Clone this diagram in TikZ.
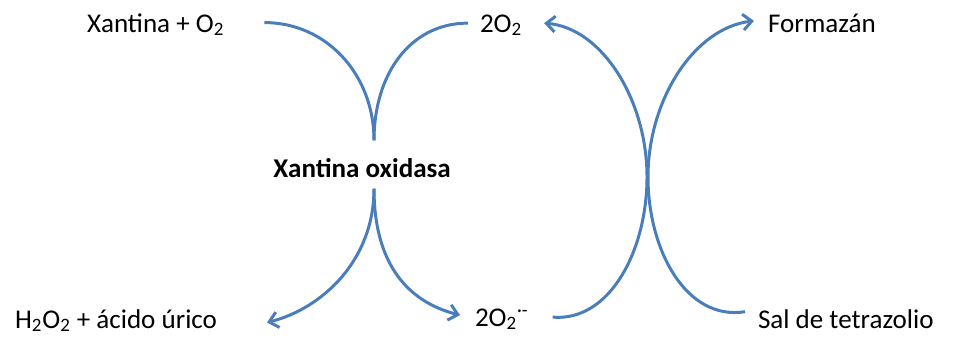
\documentclass[tikz,border=0pt]{standalone}
\usepackage{fontspec}
\setmainfont{Carlito}
\usetikzlibrary{arrows.meta}
\definecolor{linkblue}{HTML}{4A7EBB}

\begin{document}
\begin{tikzpicture}[
    x=0.02cm, y=-0.02cm,
    font=\fontsize{15.4}{18}\selectfont,
    species/.style={anchor=base west, inner sep=0pt, outer sep=0pt},
    enzyme/.style={inner sep=0pt, outer sep=0pt, font=\fontsize{15.4}{18}\selectfont\bfseries},
    link/.style={draw=linkblue, line width=1.7pt},
    arrow/.style={link, -{Straight Barb[length=5pt, width=9pt]}}
  ]
  \useasboundingbox (0,0) rectangle (966,343);

  % top row
  \node[species] (xan) at (87,32) {Xantina + O\textsubscript{2}};
  \node[species] (dio) at (480,32) {2O\textsubscript{2}};
  \node[species] (form) at (768,32) {Formazán};

  % enzyme in the middle
  \node[enzyme] (xo) at (362,168) {Xantina oxidasa};

  % bottom row
  \node[species] (prod) at (15,328) {H\textsubscript{2}O\textsubscript{2} + ácido úrico};
  \node[species] (sup) at (475,326) {2O\textsubscript{2}\textsuperscript{·-}};
  \node[species] (sal) at (758,328) {Sal de tetrazolio};

  % substrates into the enzyme
  \draw[link] ([shift={(40,-2)}]xan.east) .. controls +(62,0) and +(0,-66) .. ([shift={(12,-18)}]xo.north);
  \draw[link] ([shift={(12,-18)}]xo.north) .. controls +(0,-66) and +(-58,0) .. ([shift={(-12,-2)}]dio.west);

  % products out of the enzyme
  \draw[arrow] ([shift={(12,11)}]xo.south) .. controls +(0,72) and +(55,-14) .. ([shift={(50,2)}]prod.east);
  \draw[arrow] ([shift={(12,11)}]xo.south) .. controls +(0,72) and +(-55,-14) .. ([shift={(-15,-4)}]sup.west);

  % superoxide back to oxygen, tetrazolium to formazan
  \draw[arrow] ([shift={(24,-2)}]sup.east) .. controls (610,322) and (647,250) .. (647,177)
    .. controls (647,100) and (602,28) .. ([shift={(22,-2)}]dio.east);
  \draw[arrow] ([shift={(-13,-7)}]sal.west) .. controls (686,321) and (648,250) .. (648,177)
    .. controls (648,100) and (694,28) .. ([shift={(-14,-2)}]form.west);
\end{tikzpicture}
\end{document}
